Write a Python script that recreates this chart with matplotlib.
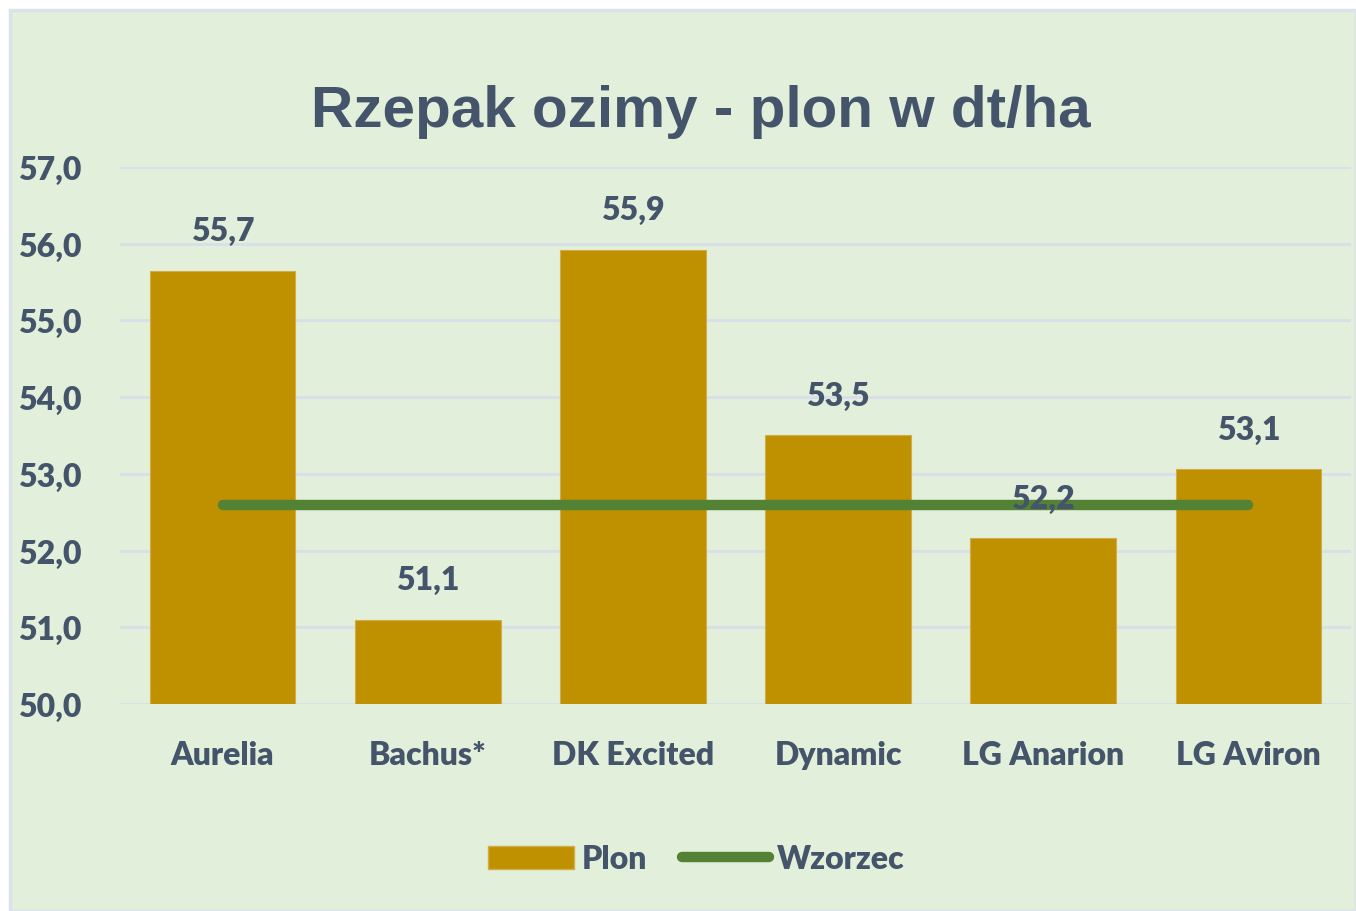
import matplotlib
matplotlib.use("Agg")
import matplotlib.pyplot as plt
from matplotlib.patches import Rectangle
from matplotlib.lines import Line2D
from matplotlib.patches import Patch

categories = ["Aurelia", "Bachus*", "DK Excited", "Dynamic", "LG Anarion", "LG Aviron"]
plon = [55.65, 51.1, 55.92, 53.5, 52.16, 53.06]
plon_labels = ["55,7", "51,1", "55,9", "53,5", "52,2", "53,1"]
wzorzec = [52.6, 52.6, 52.6, 52.6, 52.6, 52.6]
yticks = [50, 51, 52, 53, 54, 55, 56, 57]
ytick_labels = ["50,0", "51,0", "52,0", "53,0", "54,0", "55,0", "56,0", "57,0"]

TXT = "#44546A"
BG = "#E2EFDA"
BAR = "#BF9000"
LINE = "#548235"
GRID = "#D9DEE8"
FONT = "Lato"
W = "heavy"
FS = 23

fig = plt.figure(figsize=(13.56, 9.12), dpi=100)
fig.patch.set_facecolor("white")
fig.patches.append(Rectangle((10/1356, 0), 1 - 10/1356, 1 - 11/912,
                             transform=fig.transFigure, facecolor=BG,
                             edgecolor="#DCE2EA", linewidth=2.5, zorder=-10))

ax = fig.add_axes([120/1356, 1 - 705/912, (1351 - 120)/1356, (705 - 168)/912])
ax.set_facecolor("none")
x = list(range(len(categories)))
ax.bar(x, [v - 50 for v in plon], bottom=50, width=0.71, color=BAR,
       edgecolor="#D2AE4A", linewidth=0.8, zorder=2)
ax.plot(x, wzorzec, color=LINE, linewidth=7.5, solid_capstyle="round", zorder=3)
for xi, v, lab in zip(x, plon, plon_labels):
    ax.annotate(lab, (xi, v), xytext=(0, 40), textcoords="offset pixels",
                ha="center", va="center", fontsize=FS, fontweight=W,
                color=TXT, family=FONT, zorder=4)

ax.set_xlim(-0.5, len(categories) - 0.5)
ax.set_ylim(50, 57)
ax.set_yticks(yticks)
ax.set_yticklabels(ytick_labels)
ax.set_xticks(x)
ax.set_xticklabels(categories)
for lbl in ax.get_yticklabels() + ax.get_xticklabels():
    lbl.set_fontsize(FS)
    lbl.set_fontweight(W)
    lbl.set_color(TXT)
    lbl.set_family(FONT)
ax.tick_params(axis="y", length=0, pad=28)
ax.tick_params(axis="x", length=0, pad=26)
ax.grid(axis="y", color=GRID, linewidth=2.0, zorder=0)
ax.set_axisbelow(True)
for s in ax.spines.values():
    s.set_visible(False)

fig.text(701/1356, 1 - 112/912, "Rzepak ozimy - plon w dt/ha", ha="center",
         va="center", fontsize=42, fontweight="bold", color=TXT,
         family="Liberation Sans")

handles = [Patch(facecolor=BAR, edgecolor="#D2AE4A", label="Plon"),
           Line2D([0], [0], color=LINE, linewidth=7.5, solid_capstyle="round",
                  label="Wzorzec")]
leg = fig.legend(handles=handles, loc="center", bbox_to_anchor=(696/1356, 1 - 860/912),
                 ncol=2, frameon=False, handlelength=2.7, handleheight=0.72,
                 handletextpad=0.25, columnspacing=1.1,
                 prop={"family": FONT, "weight": W, "size": FS})
for t in leg.get_texts():
    t.set_color(TXT)

fig.savefig("out.png", dpi=100, facecolor=fig.get_facecolor())
